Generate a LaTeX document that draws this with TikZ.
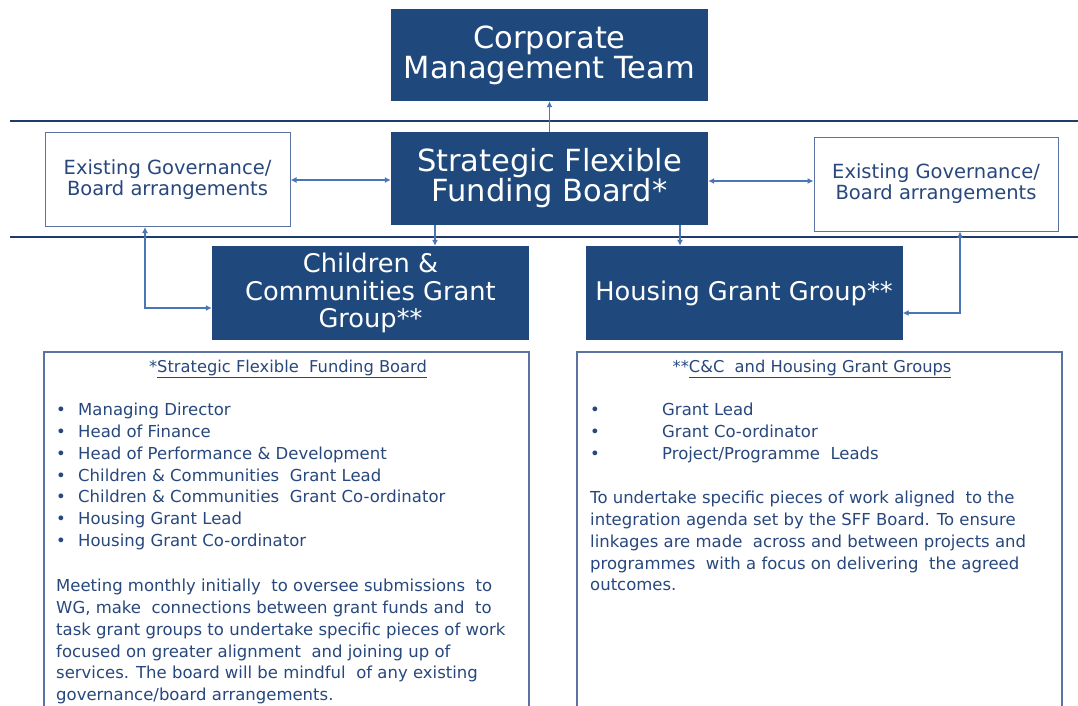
\documentclass[tikz,border=0pt]{standalone}
\usepackage{fontspec}
\setmainfont{DejaVu Sans}
\usetikzlibrary{arrows.meta}
\definecolor{navy}{RGB}{31,73,125}
\definecolor{rule}{RGB}{30,60,110}
\definecolor{arrowc}{RGB}{74,118,181}
\definecolor{txt}{RGB}{40,72,125}
\definecolor{frame}{RGB}{90,115,160}
\begin{document}
\begin{tikzpicture}[x=1pt,y=-1pt,
  darkbox/.style={draw=none,fill=navy,text=white,inner sep=0pt,align=center,minimum width=317pt,minimum height=93pt},
  govbox/.style={draw=frame,line width=1pt,fill=white,text=txt,inner sep=0pt,align=center,minimum width=245pt,minimum height=94pt,font=\fontsize{19.5}{21}\selectfont},
  conn/.style={draw=arrowc,line width=1.2pt,{Latex[length=6pt,width=6pt]}-{Latex[length=6pt,width=6pt]}},
  oneway/.style={draw=arrowc,line width=1.2pt,-{Latex[length=6pt,width=6pt]}},
  hrule/.style={draw=rule,line width=2.5pt},
  infobox/.style={draw=frame,line width=1.2pt},
  body/.style={text=txt,inner sep=0pt,anchor=north west,align=left,font=\fontsize{16.5}{21.8}\selectfont}
]
\useasboundingbox (0,0) rectangle (1078,706);
\fill[white] (0,0) rectangle (1078,706);

% horizontal rules
\coordinate (r1a) at (10,121); \coordinate (r1b) at (1078,121);
\coordinate (r2a) at (10,237); \coordinate (r2b) at (1078,237);
\draw[hrule] (r1a) -- (r1b);
\draw[hrule] (r2a) -- (r2b);

% boxes
\node[darkbox,minimum height=92pt,font=\fontsize{30.5}{30}\selectfont] (cmt) at (549.5,55) {Corporate\\Management Team};
\node[darkbox,font=\fontsize{30.5}{30}\selectfont] (sffb) at (549.5,178.5) {Strategic Flexible\\Funding Board*};
\node[govbox] (exL) at (167.5,179.5) {Existing Governance/\\Board arrangements};
\node[govbox,minimum width=244pt] (exR) at (936,184) {Existing Governance/\\Board arrangements};
\node[darkbox,minimum height=94pt,font=\fontsize{25.7}{27.5}\selectfont] (cc) at (370.5,293) {Children \&\\Communities Grant\\Group**};
\node[darkbox,minimum height=94pt,font=\fontsize{25.7}{27.5}\selectfont] (hg) at (744,293) {Housing Grant Group**};

% connectors
\draw[oneway] (sffb.north) -- (cmt.south);
\draw[oneway] (sffb.south -| cc.north) ++(64.5,0) coordinate (d1) -- (d1 |- cc.north);
\draw[oneway] (sffb.south -| hg.north) ++(-64,0) coordinate (d2) -- (d2 |- hg.north);
\draw[conn] (exL.east |- 0,180) -- (sffb.west |- 0,180);
\draw[conn] (sffb.east |- 0,181) -- (exR.west |- 0,181);
\coordinate (eL) at (145,0);
\draw[conn] (eL |- exL.south) -- (eL |- 0,308) -- (cc.west |- 0,308);
\coordinate (eR) at (960,0);
\draw[conn] (eR |- exR.south) -- (eR |- 0,313) -- (hg.east |- 0,313);

% info boxes
\draw[infobox] (44,352) rectangle (529,720);
\draw[infobox] (577,352) rectangle (1062,720);

\node[text=txt,inner sep=0pt,font=\fontsize{16.3}{20}\selectfont] (tL) at (288,369) {*\underline{Strategic Flexible\ \ Funding Board}};
\node[text=txt,inner sep=0pt,font=\fontsize{16.3}{20}\selectfont] (tR) at (812,369) {**\underline{C\&C\ \ and Housing Grant Groups}};

\node[body] (listL) at (56,403) {%
\makebox[22pt][l]{•}Managing Director\\
\makebox[22pt][l]{•}Head of Finance\\
\makebox[22pt][l]{•}Head of Performance \& Development\\
\makebox[22pt][l]{•}Children \& Communities\ \ Grant Lead\\
\makebox[22pt][l]{•}Children \& Communities\ \ Grant Co-ordinator\\
\makebox[22pt][l]{•}Housing Grant Lead\\
\makebox[22pt][l]{•}Housing Grant Co-ordinator};

\node[body] (paraL) at (56,579) {%
Meeting monthly initially\ \ to oversee submissions\ \ to\\
WG, make\ \ connections between grant funds and\ \ to\\
task grant groups to undertake specific pieces of work\\
focused on greater alignment\ \ and joining up of\\
services. The board will be mindful\ \ of any existing\\
governance/board arrangements.};

\node[body] (listR) at (590,403) {%
\makebox[72pt][l]{•}Grant Lead\\
\makebox[72pt][l]{•}Grant Co-ordinator\\
\makebox[72pt][l]{•}Project/Programme\ \ Leads};

\node[body] (paraR) at (590,491) {%
To undertake specific pieces of work aligned\ \ to the\\
integration agenda set by the SFF Board. To ensure\\
linkages are made\ \ across and between projects and\\
programmes\ \ with a focus on delivering\ \ the agreed\\
outcomes.};
\end{tikzpicture}
\end{document}
